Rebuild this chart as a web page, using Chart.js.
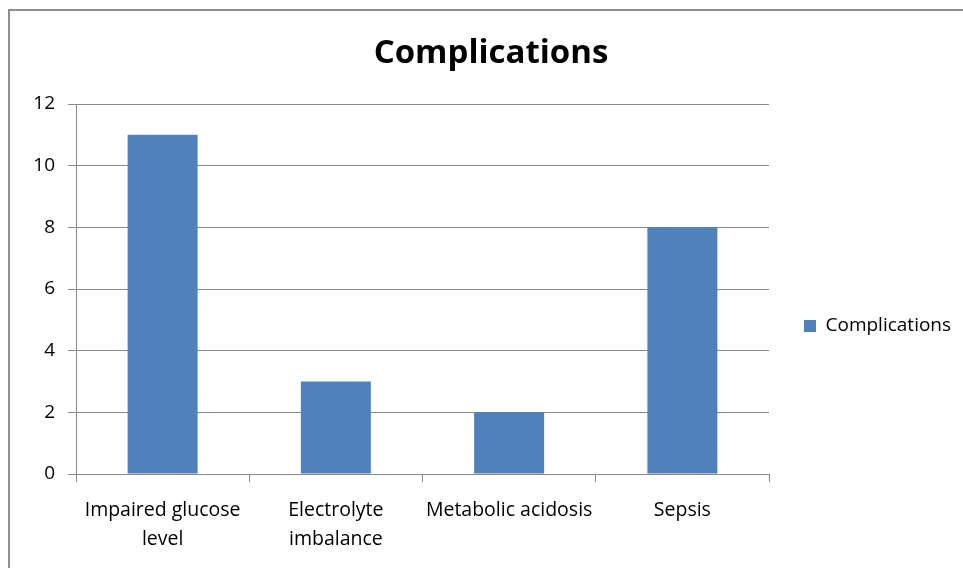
<!DOCTYPE html>
<html>
<head>
<meta charset="utf-8">
<script src="https://cdn.jsdelivr.net/npm/chart.js@4.4.1/dist/chart.umd.min.js"></script>
<style>
  html, body { margin: 0; padding: 0; background: #fff; }
  #wrap { width: 963px; height: 568px; }
</style>
</head>
<body>
<div id="wrap"><canvas id="complicationsChart" width="963" height="568"></canvas></div>
<script>
const categories = [
  ["Impaired glucose", "level"],
  ["Electrolyte", "imbalance"],
  ["Metabolic acidosis"],
  ["Sepsis"]
]
const seriesName = "Complications"
const counts = [11, 3, 2, 8]
const yTicks = [0, 2, 4, 6, 8, 10, 12]

const gray = "#898989"
Chart.defaults.font.family = "'Open Sans', sans-serif"
Chart.defaults.color = "#000"

// outer frame like the Excel chart border
const frame = {
  id: "frame",
  beforeDraw(chart) {
    const ctx = chart.ctx
    ctx.save()
    ctx.fillStyle = "#fff"
    ctx.fillRect(0, 0, chart.width, chart.height)
    ctx.strokeStyle = "#8e8e8e"
    ctx.lineWidth = 2
    ctx.beginPath()
    ctx.moveTo(9, chart.height + 5)
    ctx.lineTo(9, 10)
    ctx.lineTo(chart.width + 5, 10)
    ctx.stroke()
    ctx.restore()
  }
}

// keep the legend a fixed width and move it down to where Excel put it
const legendFix = {
  id: "legendFix",
  afterInit(chart) {
    const lg = chart.legend
    const fit = lg.fit.bind(lg)
    lg.fit = function () { fit(); this.width = 194 }
  },
  afterLayout(chart) {
    chart.legend.top += 42
    chart.legend.bottom += 42
  }
}

const ctx = document.getElementById("complicationsChart").getContext("2d")
new Chart(ctx, {
  type: "bar",
  data: {
    labels: categories,
    datasets: [{
      label: seriesName,
      data: counts,
      backgroundColor: "#4F81BD",
      borderWidth: 0,
      categoryPercentage: 1,
      barPercentage: 0.404
    }]
  },
  options: {
    responsive: false,
    animation: false,
    devicePixelRatio: 1,
    layout: { padding: { left: 19, right: 0, top: 0, bottom: 0 } },
    plugins: {
      title: {
        display: true,
        text: seriesName,
        font: { size: 33, weight: "bold" },
        color: "#000",
        padding: { top: 34, bottom: 30.4 }
      },
      legend: {
        position: "right",
        labels: {
          boxWidth: 12,
          boxHeight: 12,
          padding: 35,
          font: { size: 19 },
          color: "#000"
        }
      },
      tooltip: { enabled: false }
    },
    scales: {
      x: {
        offset: true,
        grid: {
          offset: true,
          drawOnChartArea: false,
          drawTicks: true,
          tickLength: 8,
          color: gray
        },
        border: { color: gray },
        ticks: {
          font: { size: 19.5, lineHeight: 1.47 },
          padding: 14,
          maxRotation: 0,
          autoSkip: false
        },
        afterFit(scale) { scale.height = 94 }
      },
      y: {
        min: 0,
        max: 12,
        afterBuildTicks(scale) { scale.ticks = yTicks.map(v => ({ value: v })) },
        grid: { color: gray, tickLength: 8 },
        border: { color: gray },
        ticks: { font: { size: 19 }, padding: 13 },
        afterFit(scale) { scale.width = 57 }
      }
    }
  },
  plugins: [frame, legendFix]
})
</script>
</body>
</html>
